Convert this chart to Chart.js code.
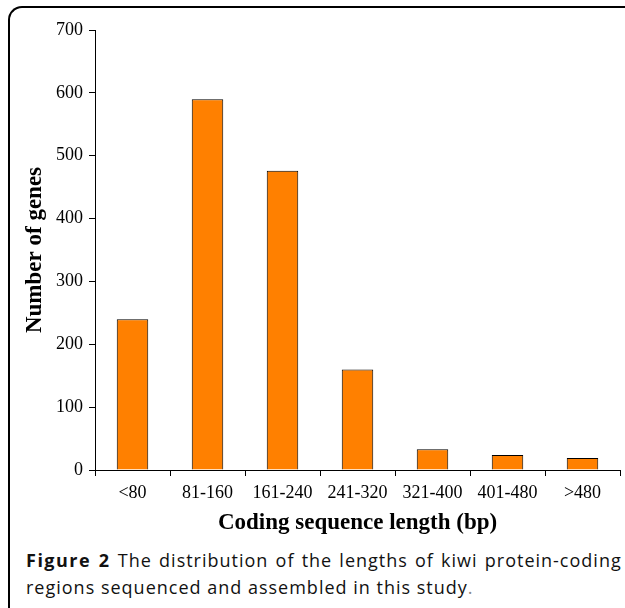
<!DOCTYPE html>
<html>
<head>
<meta charset="utf-8">
<script src="https://cdn.jsdelivr.net/npm/chart.js@4/dist/chart.umd.min.js"></script>
<style>
  html, body { margin:0; padding:0; background:#fff; }
  body { width:625px; height:608px; position:relative; overflow:hidden; }
  #frame { position:absolute; left:8px; top:6px; width:615px; height:640px;
           border-top:2px solid #000; border-left:2px solid #000; border-top-left-radius:14px; }
  #wrap { position:absolute; left:0; top:0; width:625px; height:545px; }
  #caption { position:absolute; left:26px; top:547px; width:620px;
             font-family:"Open Sans", sans-serif; font-size:18px; line-height:27px; color:#111;
             letter-spacing:1px; white-space:nowrap; }
  #caption b { font-weight:bold; letter-spacing:1.5px; }
  #caption .l1 { word-spacing:1.5px; }
</style>
</head>
<body>
<div id="frame"></div>
<div id="wrap"><canvas id="c"></canvas></div>
<div id="caption"><span class="l1"><b>Figure 2</b> The distribution of the lengths of kiwi protein-coding</span><br>regions sequenced and assembled in this study<span style="color:#888">.</span></div>
<script>
const categories = ["<80", "81-160", "161-240", "241-320", "321-400", "401-480", ">480"];
const geneCounts = [240, 590, 476, 160, 33, 24, 19];
const yTicks = [0, 100, 200, 300, 400, 500, 600, 700];

const serif = "'Liberation Serif', 'Times New Roman', serif";

new Chart(document.getElementById('c'), {
  type: 'bar',
  data: {
    labels: categories,
    datasets: [{
      data: geneCounts,
      backgroundColor: '#FF8000',
      borderColor: '#000',
      borderWidth: 1,
      categoryPercentage: 1.0,
      barPercentage: 0.42
    }]
  },
  options: {
    responsive: true,
    maintainAspectRatio: false,
    animation: false,
    devicePixelRatio: 1,
    layout: { padding: { left: 0, right: 5, top: 30, bottom: 0 } },
    plugins: { legend: { display: false }, tooltip: { enabled: false } },
    scales: {
      x: {
        offset: true,
        grid: { display: true, offset: true, drawOnChartArea: false, drawTicks: true, tickLength: 6, color: '#000', lineWidth: 1 },
        border: { display: true, color: '#000', width: 1 },
        ticks: { color: '#000', font: { family: serif, size: 18 }, padding: 6, maxRotation: 0, autoSkip: false },
        title: { display: true, text: 'Coding sequence length (bp)', color: '#000',
                 font: { family: serif, size: 23, weight: 'bold' }, padding: { top: 0, bottom: 8 } },
        afterFit: (s) => { s.height = 75; }
      },
      y: {
        min: 0, max: 700,
        afterBuildTicks: (s) => { s.ticks = yTicks.map(v => ({ value: v })); },
        grid: { display: true, drawOnChartArea: false, drawTicks: true, tickLength: 6, color: '#000', lineWidth: 1 },
        border: { display: true, color: '#000', width: 1 },
        ticks: { color: '#000', font: { family: serif, size: 18 }, padding: 6 },
        title: { display: true, text: 'Number of genes', color: '#000',
                 font: { family: serif, size: 23, weight: 'bold' }, padding: { top: 21, bottom: 0 } },
        afterFit: (s) => { s.width = 95; }
      }
    }
  }
});
</script>
</body>
</html>
